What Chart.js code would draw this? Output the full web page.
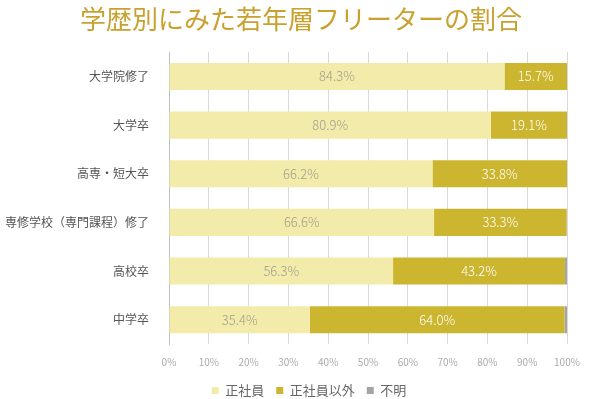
<!DOCTYPE html>
<html>
<head>
<meta charset="utf-8">
<script src="https://cdn.jsdelivr.net/npm/chart.js@4"></script>
<style>
  html, body { margin: 0; padding: 0; background: #fff; }
  #wrap { width: 600px; height: 399px; position: relative; }
</style>
</head>
<body>
<div id="wrap"><canvas id="chart"></canvas></div>
<script>
// 学歴別にみた若年層フリーターの割合
const categories = ['大学院修了', '大学卒', '高専・短大卒', '専修学校（専門課程）修了', '高校卒', '中学卒'];
const seriesNames = ['正社員', '正社員以外', '不明'];
const regular = [84.3, 80.9, 66.2, 66.6, 56.3, 35.4];
const nonRegular = [15.7, 19.1, 33.8, 33.3, 43.2, 64.0];
const unknown = [0, 0, 0, 0.1, 0.5, 0.6];
const xTicks = [0, 10, 20, 30, 40, 50, 60, 70, 80, 90, 100];

const FONT = '"Noto Sans CJK JP", "Noto Sans", sans-serif';

// draw value labels in the middle of each bar (no datalabels plugin available)
const barLabels = {
  id: 'barLabels',
  afterDatasetsDraw(chart){
    const ctx = chart.ctx;
    ctx.save();
    ctx.font = '300 13px ' + FONT;
    ctx.textAlign = 'center';
    ctx.textBaseline = 'middle';
    chart.data.datasets.forEach((ds, i) => {
      if(!ds.labelColor) return;
      const meta = chart.getDatasetMeta(i);
      meta.data.forEach((bar, j) => {
        const v = ds.data[j];
        if(!v) return;
        const x = (bar.x + bar.base) / 2;
        ctx.fillStyle = ds.labelColor;
        ctx.fillText(v.toFixed(1) + '%', x, bar.y);
      });
    });
    ctx.restore();
  }
};

// centre title and legend like the original, not on the padded layout box
const recenter = {
  id: 'recenter',
  afterLayout(chart){
    if(chart.titleBlock){
      chart.titleBlock.left = 2;
      chart.titleBlock.right = chart.width;
    }
    if(chart.legend){
      chart.legend.left = 28;
      chart.legend.right = 590;
    }
  }
};

new Chart(document.getElementById('chart'), {
  type: 'bar',
  data: {
    labels: categories,
    datasets: [
      { label: seriesNames[0], data: regular, backgroundColor: '#F2EBA9', labelColor: '#a09f90' },
      { label: seriesNames[1], data: nonRegular, backgroundColor: '#CCB630', labelColor: '#ffffff' },
      { label: seriesNames[2], data: unknown, backgroundColor: '#A5A5A5' },
    ]
  },
  options: {
    indexAxis: 'y',
    responsive: true,
    maintainAspectRatio: false,
    animation: false,
    layout: { padding: { left: 6, right: 33, top: 0, bottom: -8 } },
    datasets: { bar: { categoryPercentage: 0.557, barPercentage: 1.0 } },
    plugins: {
      title: {
        display: true,
        text: '学歴別にみた若年層フリーターの割合',
        color: '#C9A12E',
        font: { family: FONT, size: 26, weight: 'normal' },
        padding: { top: 4, bottom: 17 }
      },
      legend: {
        position: 'bottom',
        labels: {
          color: '#666',
          font: { family: FONT, size: 13 },
          boxWidth: 7, boxHeight: 7,
          padding: 12
        }
      },
      tooltip: { enabled: false }
    },
    scales: {
      x: {
        stacked: true,
        min: 0, max: 100,
        afterBuildTicks: (axis) => { axis.ticks = xTicks.map(v => ({ value: v })); },
        afterFit: (axis) => { axis.height = 28; },
        ticks: {
          color: '#aaaaaa',
          font: { family: FONT, size: 10 },
          callback: (v) => v + '%',
          padding: 12
        },
        grid: { color: '#d9d9d9', drawTicks: false },
        border: { display: false }
      },
      y: {
        stacked: true,
        afterFit: (axis) => { axis.width = 163; },
        ticks: { color: '#555', font: { family: FONT, size: 12 }, padding: 12 },
        grid: { display: false },
        border: { display: true, color: '#bfbfbf' }
      }
    }
  },
  plugins: [barLabels, recenter]
});
</script>
</body>
</html>
